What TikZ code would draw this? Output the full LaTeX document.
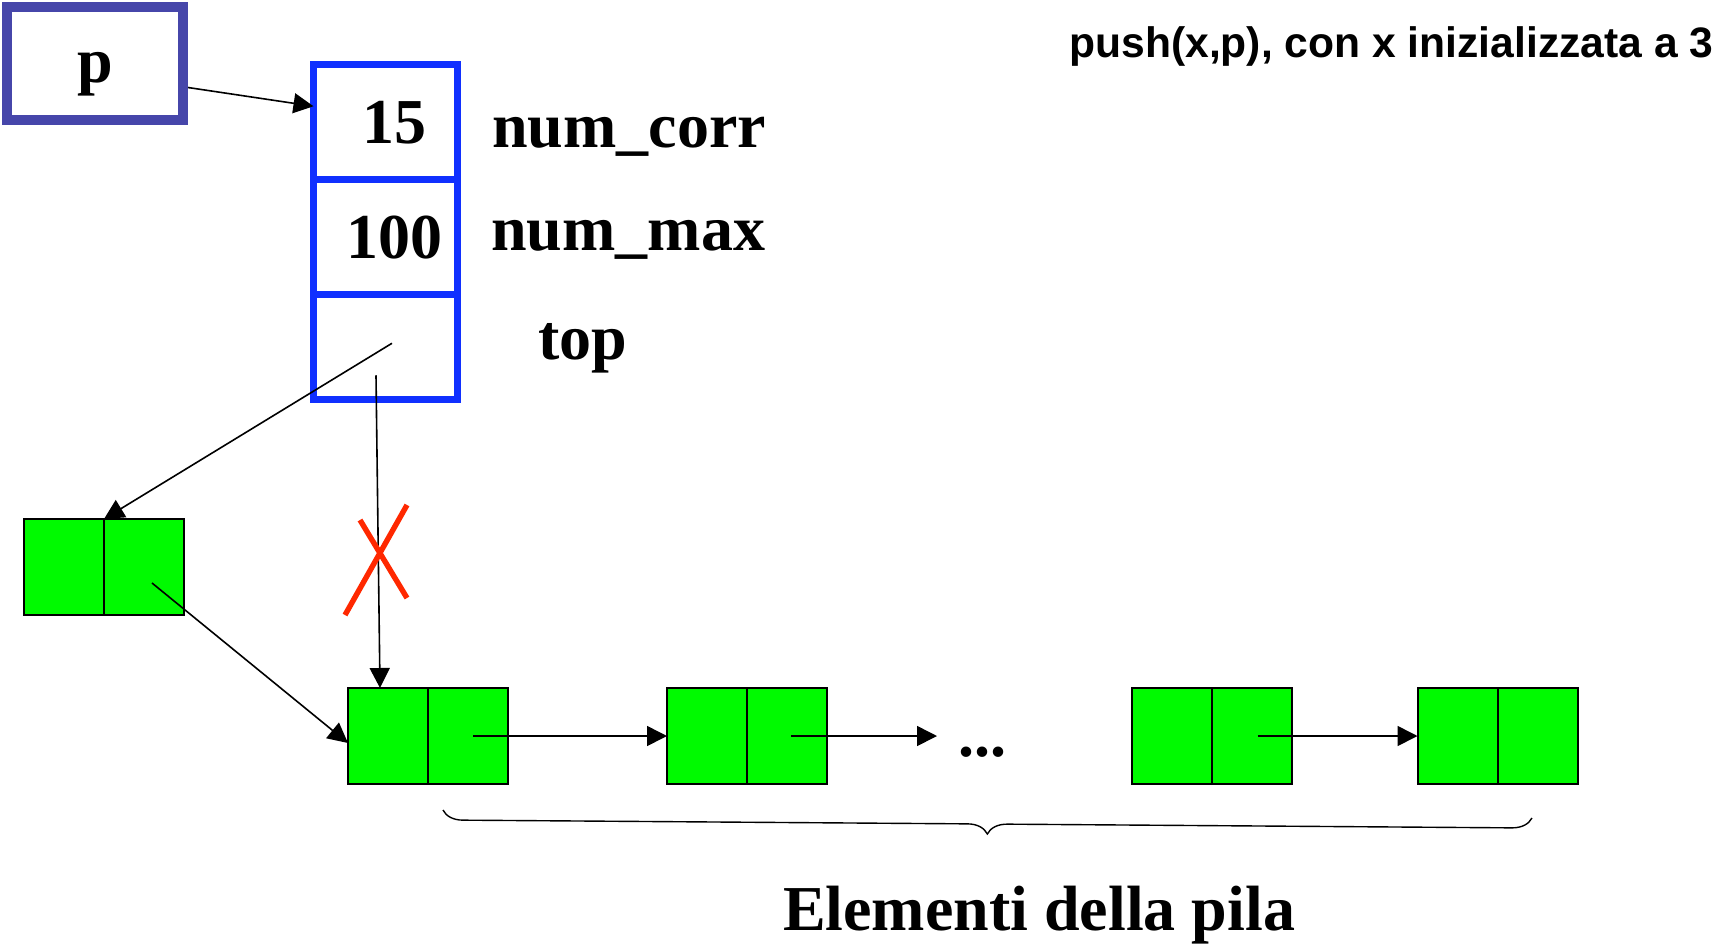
\documentclass[tikz,border=0pt]{standalone}
\usepackage{fontspec}
\setmainfont{Liberation Serif}
\newfontfamily\headsans{Liberation Sans}
\usetikzlibrary{arrows.meta,positioning,decorations.pathreplacing}

\definecolor{ptrblue}{RGB}{70,70,170}
\definecolor{fldblue}{RGB}{16,48,255}
\definecolor{elgreen}{RGB}{0,250,0}
\definecolor{crossred}{RGB}{255,40,0}
\newcommand\bigbf{\fontsize{32}{38}\selectfont\bfseries}
\newcommand\headfont{\headsans\fontsize{21.3}{25}\selectfont\bfseries}

\tikzset{
  ptr/.style={draw=ptrblue,line width=5pt,minimum width=88pt,minimum height=56.5pt,
    font=\bigbf,text height=24pt,text depth=5.5pt},
  fld/.style={draw=fldblue,line width=3.5pt,minimum width=72pt,outer sep=0pt,
    font=\bigbf,execute at begin node={\hspace*{9pt}}},
  cell/.style={draw,fill=elgreen,line width=1pt,minimum width=40pt,minimum height=48pt,outer sep=0pt},
  lbl/.style={anchor=base west,font=\bigbf,inner sep=0pt},
  link/.style={->,line width=0.8pt},
}

\begin{document}
\begin{tikzpicture}[x=0.5pt,y=-0.5pt,>={Triangle[length=10pt,width=10pt]}]
  \fill[white] (0,0) rectangle (1715,944);
  % puntatore p e struttura della pila
  \node[ptr] (p) at (95,63.5) {p};
  \node[fld,minimum height=57.5pt] (c1) at (385.5,122.25) {15};
  \node[fld,minimum height=57.5pt,below=0pt of c1] (c2) {100};
  \node[fld,minimum height=52.5pt,below=0pt of c2] (c3) {};
  \node[lbl] (ncorr) at (492,147) {num\_corr};
  \node[lbl] (nmax) at (491,250) {num\_max};
  \node[lbl] (ntop) at (538,359) {top};
  \node[anchor=base west,font=\headfont,inner sep=0pt] (title) at (1069,57) {push(x,p), con x inizializzata a 3};

  % nuovo elemento
  \node[cell] (nl) at (64,567) {};
  \node[cell,right=0pt of nl] (nr) {};

  % elementi della pila
  \foreach \i/\x in {1/388,2/707,3/1171.5,4/1457.5}{
    \node[cell] (el\i) at (\x,736) {};
    \node[cell,right=0pt of el\i] (er\i) {};
  }
  \node[lbl] (dots) at (958,756) {...};
  \coordinate (gap) at (937,736);

  \draw[link] ([yshift=-12pt]p.east) -- ([yshift=8pt]c1.west);
  \draw[link] ([shift={(3.25pt,2pt)}]c3.center) -- (nl.north east);
  \draw[link] ([shift={(-4.75pt,-14pt)}]c3.center) -- ([xshift=-4pt]el1.north);
  \draw[crossred,line width=2.7pt] (345,615) -- (407,505) (360,520) -- (407,598);
  \draw[link] ([shift={(4pt,-8pt)}]nr.center) -- ([yshift=-3.5pt]el1.west);
  \draw[link] ([xshift=2.5pt]er1.center) -- (el2.west);
  \draw[link] ([xshift=2pt]er2.center) -- (gap);
  \draw[link] ([xshift=3pt]er3.center) -- (el4.west);

  \draw[line width=0.7pt,decorate,decoration={brace,mirror,amplitude=10pt}] (443,810) -- (1532,818);
  \node[anchor=base,font=\bigbf,inner sep=0pt] (caption) at (1039,930) {Elementi della pila};
\end{tikzpicture}
\end{document}
